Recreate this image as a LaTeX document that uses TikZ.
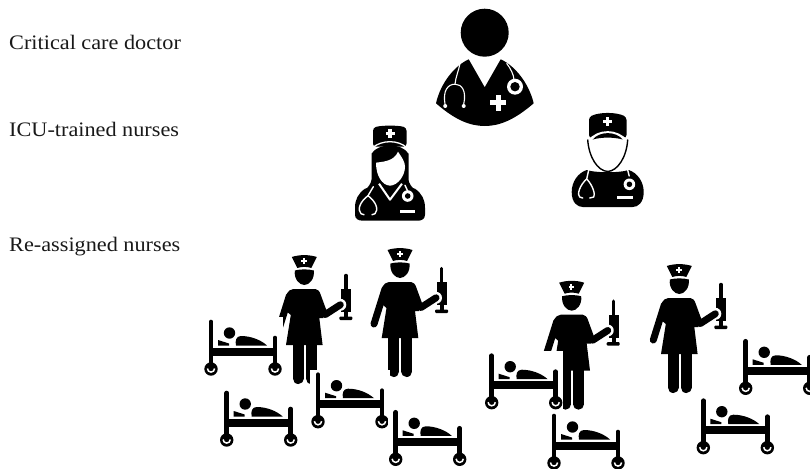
\documentclass[tikz,border=0pt]{standalone}
\usepackage{fontspec}
\setmainfont[FakeStretch=1.08]{Liberation Serif}
\newcommand{\plusmark}[3]{\fill[white] ({#1-#3},{#2-0.34*#3}) rectangle ({#1+#3},{#2+0.34*#3}); \fill[white] ({#1-0.34*#3},{#2-#3}) rectangle ({#1+0.34*#3},{#2+#3});}
\tikzset{
  rowlabel/.style={anchor=base west, inner sep=0pt, font=\fontsize{20.6}{24}\selectfont, text=black!90},
  scope tube/.style={draw=white, line width=1.4pt, line cap=round, line join=round},
  wardbed/.pic={
    \fill[white] (-8,-52) rectangle (71.5,8);
    % posts and frame
    \draw[line width=4.7pt, line cap=round] (0,-47) -- (0,-2);
    \draw[line width=4.7pt, line cap=round] (64,-31) -- (64,-2);
    \fill (0,-21.5) rectangle (64,-13.5);
    % patient
    \fill (18.5,-36) circle[radius=5.7];
    \fill (7,-29) -- (18,-25.5) -- (18,-23.5) -- (7,-23.5) -- cycle;
    \fill (25,-23.5) .. controls (24,-28) and (25,-33) .. (30,-33) .. controls (40,-33) and (50,-29) .. (56,-23.5) -- cycle;
    % wheels
    \foreach \wx in {0,64} {
      \fill (\wx,0) circle[radius=6.7];
      \draw[white, line width=1.5pt] (\wx-3.6,-0.5) arc[start angle=180, end angle=0, radius=3.6];
    }
  },
  wardnurse/.pic={
    % hat
    \fill (-12.5,-19) .. controls (-5,-21.5) and (5,-21.5) .. (12.5,-19) -- (7,-8) .. controls (3,-9.5) and (-3,-9.5) .. (-7,-8) -- cycle;
    \plusmark{-0.3}{-15}{2.8}
    % head
    \fill (-9.5,-5.5) .. controls (-4,-7) and (4,-7) .. (9.5,-5.5) .. controls (10.5,3) and (5,9) .. (0,9) .. controls (-5,9) and (-10.5,3) .. cycle;
    % syringe
    \draw[line width=3.5pt, line cap=round] (41.7,-0.5) -- (41.7,14);
    \fill (37,13) rectangle (47,36);
    \fill (40,36) rectangle (44,41);
    \fill[rounded corners=1pt] (35,40.5) rectangle (48,44);
    \fill[white] (36,28.8) circle[radius=6];
    % dress and legs
    \fill (-11,13) -- (11,13) .. controls (13,13) and (15.5,15) .. (16.5,19) -- (22,34) -- (19,42) -- (15,42) -- (18.3,69) -- (-18.3,69) -- (-13.5,39) -- (-17,36) -- (-18,19) .. controls (-16,15) and (-14,13) .. cycle;
    \draw[line width=7pt, line cap=round] (-15,20) -- (-26,55);
    \draw[line width=7pt, line cap=round, line join=round] (21,38.5) -- (36,28.8);
    \draw[line width=11pt, line cap=round] (-6.2,68) -- (-6.2,102.5);
    \draw[line width=11pt, line cap=round] (6.8,68) -- (6.8,102.5);
  },
  % critical care doctor
  criticaldoc/.pic={
    \fill (0,0) circle[radius=24];
    \fill (-48.7,70.6) .. controls (-44,50) and (-30,33) .. (-16,26.6) -- (0,54.6) -- (16,26.6) .. controls (30,33) and (44,50) .. (49,70.6) .. controls (30,87) and (15,93.3) .. (0,93.3) .. controls (-15,93.3) and (-30,87) .. cycle;
    \draw[scope tube, line width=1.1pt] (-24.7,30.7) .. controls (-26,38) and (-29,44) .. (-29.7,51.5);
    \draw[scope tube, line width=1.1pt] (-39.7,71.5) .. controls (-42,58) and (-37,51.5) .. (-29.7,51.5) .. controls (-23,51.5) and (-18,58) .. (-21,71.5);
    \fill[white] (-39.5,73.3) circle[radius=2];
    \fill[white] (-21,73.3) circle[radius=2];
    \draw[scope tube, line width=1.1pt] (22,30.7) .. controls (26,36) and (29,42) .. (29.3,47);
    \fill[white] (30.3,54) circle[radius=8];
    \fill (30.3,54) circle[radius=4.7];
    \plusmark{13.7}{70}{8}
  },
  % ICU nurse, woman
  icunursew/.pic={
    \fill[rounded corners=3pt] (-17,-25) -- (-17,-44) .. controls (-8,-46.5) and (8,-46.5) .. (16.5,-44) -- (16.5,-25) -- cycle;
    \plusmark{0}{-38}{4.5}
    % hair
    \fill (-18.5,-18) .. controls (-12,-29) and (12,-29) .. (18.5,-18) -- (18.5,8) .. controls (19,12) and (22,16) .. (25,18) -- (-25,18) .. controls (-22,16) and (-19,12) .. (-18.5,8) -- cycle;
    \draw[white, line width=1.3pt] (-17.5,-24) .. controls (-8,-32) and (8,-32) .. (17,-24);
    % body
    \fill (-25,17) .. controls (-15,14) and (15,14) .. (25,17) .. controls (32,22) and (35,28) .. (35,36) -- (35,43) .. controls (35,47) and (32,49) .. (28,49) -- (-27,49) .. controls (-32,49) and (-35,47) .. (-35,43) -- (-35,36) .. controls (-35,28) and (-32,22) .. (-25,17) -- cycle;
    % face and collar
    \fill[white] (-14,-9) .. controls (-8,-10) and (4,-10) .. (8,-20) .. controls (12,-14) and (15,-10) .. (15,-5) .. controls (15,4) and (8,13.5) .. (0,14) .. controls (-8,13.5) and (-14,4) .. (-14,-9) -- cycle;
    \draw[white, line width=2pt, line join=round] (-11,12) -- (0,28) -- (12,12);
    % stethoscope
    \draw[scope tube] (-16.7,15) -- (-22,24) .. controls (-30,30) and (-33,38) .. (-29,42) -- (-26,43);
    \draw[scope tube] (-22,24) .. controls (-14,30) and (-11,38) .. (-15,42) -- (-18,43);
    \draw[scope tube] (15,13.5) -- (17.5,19);
    \fill[white] (17.7,24.3) circle[radius=5.8];
    \fill (17.7,24.3) circle[radius=2.8];
    \fill[white] (10,38.5) rectangle (25,41.6);
  },
  % ICU nurse, man
  icunursem/.pic={
    \fill[rounded corners=3pt] (-18.7,-17) -- (-18.7,-38) .. controls (-8,-43) and (8,-43) .. (18.8,-38) -- (18.8,-17) -- cycle;
    \plusmark{0}{-33.5}{4.5}
    \fill[white] (-20,-14.5) .. controls (-10,-27) and (10,-27) .. (20,-14.5) -- cycle;
    % body
    \fill (-21,15) .. controls (-12,18) and (12,18) .. (21,15) .. controls (30,18) and (36,27) .. (36,37) .. controls (36,48) and (30,52) .. (25,52) -- (-25,52) .. controls (-30,52) and (-36,48) .. (-36,37) .. controls (-36,27) and (-30,18) .. (-21,15) -- cycle;
    % face
    \draw[fill=white, line width=1.4pt] (-20,-15.5) .. controls (-19,2) and (-10,16) .. (0,16.5) .. controls (10,16) and (19,2) .. (20,-15.5);
    \fill (-15,-15.5) .. controls (-8,-24) and (8,-24) .. (15,-15.5) .. controls (6,-18) and (-6,-18) .. cycle;
    % stethoscope
    \draw[scope tube] (-19,15) -- (-21,24) .. controls (-28,30) and (-31,40) .. (-28,42) -- (-25,43);
    \draw[scope tube] (-21,24) .. controls (-15,30) and (-12,40) .. (-14,42) -- (-18,43);
    \draw[scope tube] (20,15) -- (21.5,21);
    \fill[white] (21.7,29.3) circle[radius=5.8];
    \fill (21.7,29.3) circle[radius=2.8];
    \fill[white] (9.7,41) rectangle (25.7,44);
  }
}
\begin{document}
\begin{tikzpicture}[x=1pt, y=-1pt]
  \useasboundingbox (0,0) rectangle (810,468);
  \node[rowlabel] (doctorrow) at (9,50) {Critical care doctor};
  \node[rowlabel] (icurow) at (9,136.7) {ICU-trained nurses};
  \node[rowlabel] (reassignedrow) at (9,251.7) {Re-assigned nurses};
  % top of the team
  \pic at (484.7,32.7) {criticaldoc};
  \pic at (390,171.7) {icunursew};
  \pic at (607.7,155) {icunursem};
  % re-assigned nurses, the beds lie over them
  \foreach \nx/\ny in {304.3/276, 400/269, 571.7/301.7, 679.3/285}
    \pic at (\nx,\ny) {wardnurse};
  \foreach \bx/\by in {211/369, 226.7/440, 318/421.7, 395.7/459.3, 491.7/402.7, 554/463, 745.7/388.3, 703.3/447.7}
    \pic at (\bx,\by) {wardbed};
\end{tikzpicture}
\end{document}
